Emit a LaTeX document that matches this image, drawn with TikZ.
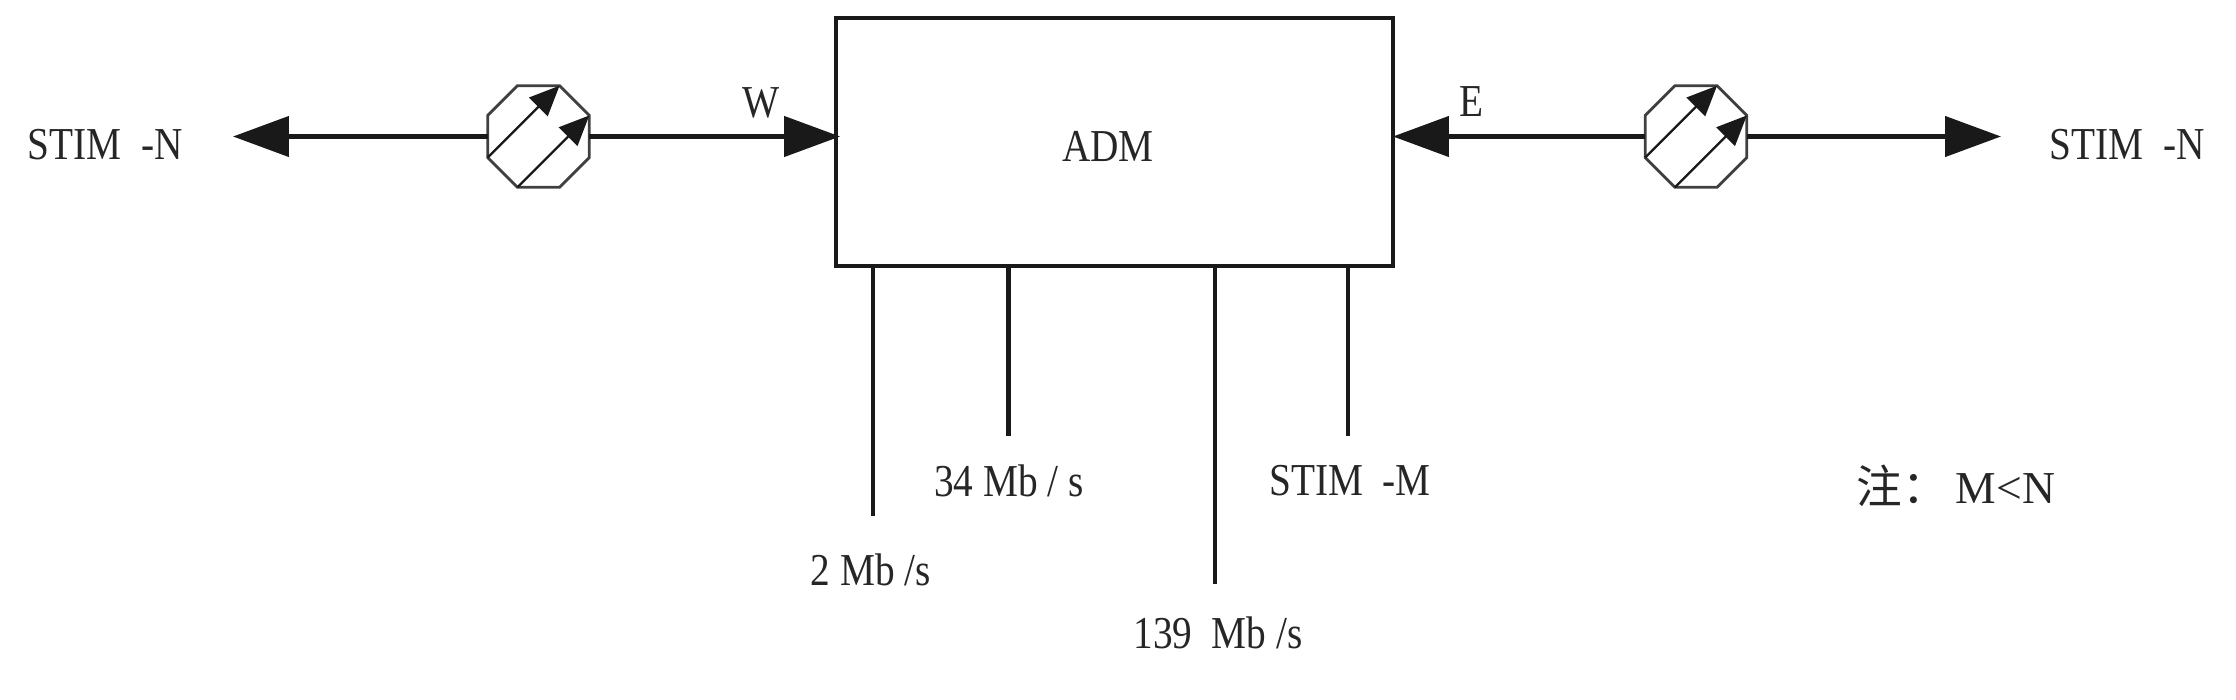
\documentclass[tikz,border=0pt]{standalone}
\usepackage{fontspec}
\setmainfont{Liberation Serif}
\newfontfamily\squeezed[FakeStretch=0.86]{Liberation Serif}
\newfontfamily\cjk{Noto Sans CJK SC}
\usetikzlibrary{arrows.meta,shapes.geometric}
\tikzset{
  px/.style={x=0.02cm,y=-0.02cm},
  lbl/.style={inner sep=0pt,font=\squeezed\fontsize{26}{30}\selectfont,text=black!85},
  wire/.style={line width=0.09cm,black!90},
  arr/.style={wire,-{Triangle[length=1.12cm,width=0.8cm]}},
  inarr/.style={line width=0.045cm,black!90,-{Triangle[length=0.6cm,width=0.52cm]}},
  octa/.style={draw=black!75,line width=0.055cm,regular polygon,regular polygon sides=8,minimum size=2.2cm,inner sep=0pt,outer sep=0pt},
  adm/.style={draw=black!90,line width=0.085cm,rectangle,minimum width=11.14cm,minimum height=4.96cm,inner sep=0pt,outer sep=0pt},
  drop/.style={line width=0.085cm,black!90}
}
\begin{document}
\begin{tikzpicture}[px]
\useasboundingbox (0,0) rectangle (2236,700);
\node[adm] (box) at (1114.5,142) {};
\node[lbl] (admt) at (1108,146) {ADM};
\node[octa] (oL) at (538.5,136.5) {};
\node[octa] (oR) at (1696,136.5) {};
\coordinate (endL) at (233,136.5);
\coordinate (endR) at (2001,136.5);
\draw[arr] (oL.west) -- (endL);
\draw[arr,shorten >=-0.08cm] (oL.east) -- (box.west |- oL.east);
\draw[arr] (oR.west) -- (box.east |- oR.west);
\draw[arr] (oR.east) -- (endR);
\foreach \o in {oL,oR}{
  \draw[inarr] (\o.corner 4) -- (\o.corner 1);
  \draw[inarr] (\o.corner 5) -- (\o.corner 8);
}
\coordinate (e2) at (873,516);
\coordinate (e34) at (1008.5,436);
\coordinate (e139) at (1215,584);
\coordinate (eM) at (1348,436);
\foreach \e in {e2,e34,e139,eM}{
  \draw[drop] (box.south -| \e) -- (\e);
}
\node[lbl] (tL) at (105,145) {STIM\ \ -N};
\node[lbl] (tR) at (2127,145) {STIM\ \ -N};
\node[lbl] (tW) at (761,103) {W};
\node[lbl] (tE) at (1471,102) {E};
\node[lbl] (t34) at (1009,481) {34 Mb / s};
\node[lbl] (tM) at (1350,481) {STIM\ \ -M};
\node[lbl] (t2) at (871,570) {2 Mb /s};
\node[lbl] (t139) at (1218,633) {139\ \ Mb /s};
\node[lbl] (tn) at (1956,486) {{\cjk 注：}\hspace{0.15cm}{\rmfamily M<N}};
\end{tikzpicture}
\end{document}
